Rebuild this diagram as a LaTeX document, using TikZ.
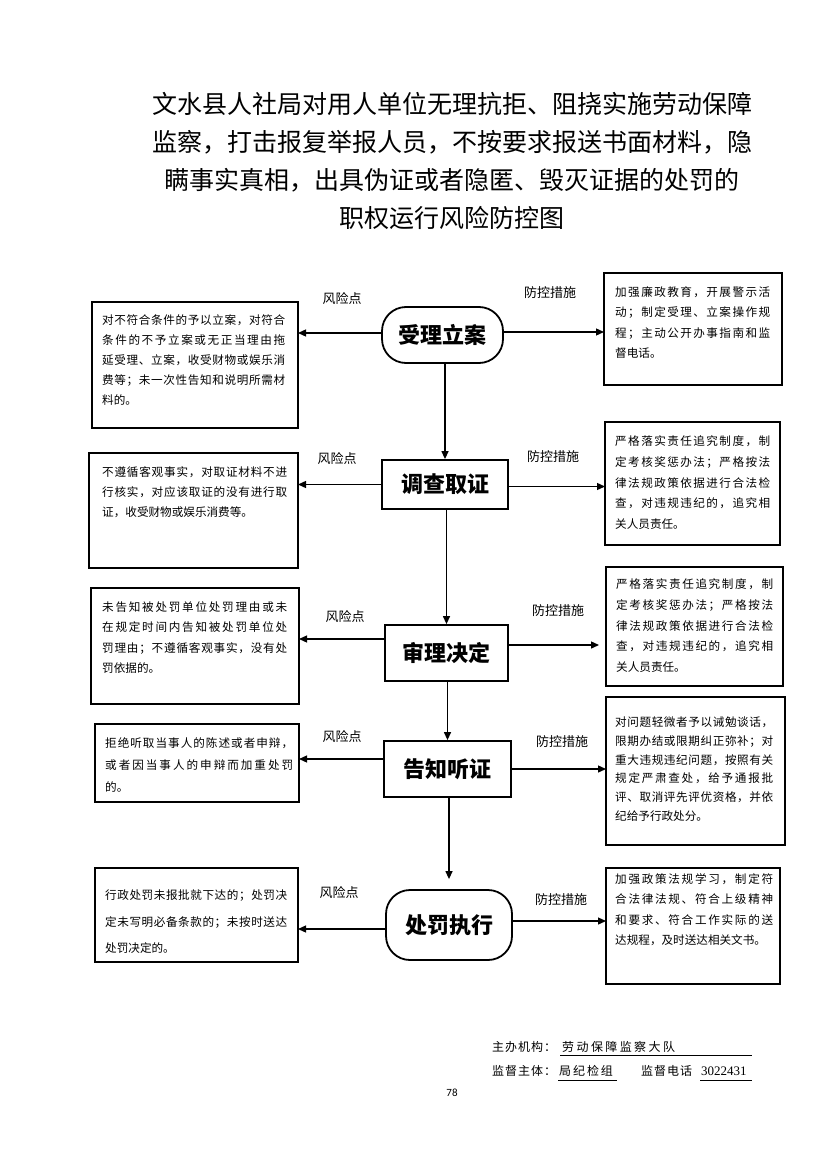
\documentclass[tikz,border=0pt]{standalone}
\usepackage{fontspec}
\setmainfont{Noto Sans CJK SC}
\newfontfamily\cjk{Noto Sans CJK SC}
\newfontfamily\numfont{Liberation Serif}
\newfontfamily\pgnum{Carlito}
\usetikzlibrary{arrows.meta}
\makeatletter
\count@="4E00
\loop\ifnum\count@<"A000 \XeTeXcharclass\count@=5 \advance\count@ by 1 \repeat
\makeatother
\XeTeXcharclass"FF0C=6 \XeTeXcharclass"FF1B=6 \XeTeXcharclass"3001=6
\XeTeXcharclass"3002=6 \XeTeXcharclass"FF1A=6
\XeTeXinterchartokenstate=1
\XeTeXinterchartoks 5 5 = {\hskip 0pt plus 3pt\relax}
\XeTeXinterchartoks 5 6 = {\nobreak\hskip 0pt plus 3pt\relax}
\XeTeXinterchartoks 6 5 = {\hskip 0pt plus 3pt\relax}
\begin{document}
\begin{tikzpicture}[x=1pt,y=-1pt,
  riskbox/.style={draw, line width=2pt, anchor=north west, inner sep=0pt, outer sep=0pt},
  boxtext/.style n args={2}{anchor=north west, inner sep=0pt, align=justify, text width=#1,
      font={\cjk\fontsize{11.6}{#2}\selectfont}},
  flow/.style={draw, line width=1.8pt, inner sep=0pt, font={\cjk\bfseries\fontsize{22}{22}\selectfont}},
  stad/.style={flow, rounded corners=24pt},
  tag/.style={inner sep=0pt, font={\cjk\fontsize{13}{13}\selectfont}},
  arr/.style={line width=1.3pt, -{Triangle[length=8pt,width=7pt]}},
  foot/.style={inner sep=0pt, anchor=west, font={\XeTeXinterchartokenstate=0 \cjk\addfontfeature{LetterSpace=8}\fontsize{12}{12}\selectfont}},
  footwide/.style={inner sep=0pt, anchor=west, font={\XeTeXinterchartokenstate=0 \cjk\addfontfeature{LetterSpace=#1}\fontsize{12}{12}\selectfont}},
  uline/.style={line width=0.8pt},
]
\fill[white] (0,0) rectangle (827,1169);
\useasboundingbox (0,0) rectangle (827,1169);

% title
\node[font={\cjk\fontsize{25}{38}\selectfont}, align=center, inner sep=0pt] (title) at (452,161)
 {文水县人社局对用人单位无理抗拒、阻挠实施劳动保障\\
  监察，打击报复举报人员，不按要求报送书面材料，隐\\
  瞒事实真相，出具伪证或者隐匿、毁灭证据的处罚的\\
  职权运行风险防控图};

% flow nodes
\node[stad, minimum width=121pt, minimum height=56pt] (S1) at (442.5,335) {受理立案};
\node[flow, minimum width=126pt, minimum height=49pt] (N2) at (445,484.5) {调查取证};
\node[flow, minimum width=123pt, minimum height=56pt] (N3) at (446.5,653) {审理决定};
\node[flow, minimum width=127pt, minimum height=56pt] (N4) at (447.5,769) {告知听证};
\node[stad, minimum width=126pt, minimum height=70pt] (S5) at (449,925) {处罚执行};

% left boxes
\node[riskbox, minimum width=206pt, minimum height=126pt] (L1) at (92,302) {};
\node[boxtext={183pt}{20pt}] (L1t) at (102,314.5)
 {对不符合条件的予以立案，对符合\linebreak 条件的不予立案或无正当理由拖\linebreak 延受理、立案，收受财物或娱乐消\linebreak 费等；未一次性告知和说明所需材\linebreak 料的。};
\node[riskbox, minimum width=209pt, minimum height=115pt] (L2) at (89,453) {};
\node[boxtext={185pt}{20pt}] (L2t) at (102,466.5)
 {不遵循客观事实，对取证材料不进\linebreak 行核实，对应该取证的没有进行取\linebreak 证，收受财物或娱乐消费等。};
\node[riskbox, minimum width=208pt, minimum height=116pt] (L3) at (91,588) {};
\node[boxtext={185pt}{20.3pt}] (L3t) at (102,601.5)
 {未告知被处罚单位处罚理由或未\linebreak 在规定时间内告知被处罚单位处\linebreak 罚理由；不遵循客观事实，没有处\linebreak 罚依据的。};
\node[riskbox, minimum width=204pt, minimum height=78pt] (L4) at (95,724) {};
\node[boxtext={188pt}{22pt}] (L4t) at (105,737.5)
 {拒绝听取当事人的陈述或者申辩，\linebreak 或者因当事人的申辩而加重处罚\linebreak 的。};
\node[riskbox, minimum width=203pt, minimum height=94pt] (L5) at (95,868) {};
\node[boxtext={182pt}{26.5pt}] (L5t) at (105,889.5)
 {行政处罚未报批就下达的；处罚决\linebreak 定未写明必备条款的；未按时送达\linebreak 处罚决定的。};

% right boxes
\node[riskbox, minimum width=178pt, minimum height=112pt] (R1) at (604,273) {};
\node[boxtext={155pt}{20.3pt}] (R1t) at (615,286.5)
 {加强廉政教育，开展警示活\linebreak 动；制定受理、立案操作规\linebreak 程；主动公开办事指南和监\linebreak 督电话。};
\node[riskbox, minimum width=175pt, minimum height=123pt] (R2) at (605,422) {};
\node[boxtext={155pt}{20.75pt}] (R2t) at (615,435.5)
 {严格落实责任追究制度，制\linebreak 定考核奖惩办法；严格按法\linebreak 律法规政策依据进行合法检\linebreak 查，对违规违纪的，追究相\linebreak 关人员责任。};
\node[riskbox, minimum width=177pt, minimum height=119pt] (R3) at (606,567) {};
\node[boxtext={157pt}{20.75pt}] (R3t) at (616,578.5)
 {严格落实责任追究制度，制\linebreak 定考核奖惩办法；严格按法\linebreak 律法规政策依据进行合法检\linebreak 查，对违规违纪的，追究相\linebreak 关人员责任。};
\node[riskbox, minimum width=179pt, minimum height=148pt] (R4) at (606,697) {};
\node[boxtext={158pt}{18.8pt}] (R4t) at (615,716.5)
 {对问题轻微者予以诫勉谈话，\linebreak 限期办结或限期纠正弥补；对\linebreak 重大违规违纪问题，按照有关\linebreak 规定严肃查处，给予通报批\linebreak 评、取消评先评优资格，并依\linebreak 纪给予行政处分。};
\node[riskbox, minimum width=174pt, minimum height=116pt] (R5) at (606,868) {};
\node[boxtext={158pt}{20.3pt}] (R5t) at (615,873.5)
 {加强政策法规学习，制定符\linebreak 合法律法规、符合上级精神\linebreak 和要求、符合工作实际的送\linebreak 达规程，及时送达相关文书。};

% labels
\node[tag] (k1) at (342,299) {风险点};
\node[tag] (k2) at (337,459) {风险点};
\node[tag] (k3) at (345,617) {风险点};
\node[tag] (k4) at (342,737) {风险点};
\node[tag] (k5) at (339,893) {风险点};
\node[tag] (m1) at (550,293) {防控措施};
\node[tag] (m2) at (553,457) {防控措施};
\node[tag] (m3) at (558,611) {防控措施};
\node[tag] (m4) at (562,742) {防控措施};
\node[tag] (m5) at (561,900) {防控措施};

% connectors
\draw[arr] ([yshift=2pt]S1.west) -- ([yshift=2pt]S1.west -| L1.east);
\draw[arr] ([yshift=3pt]S1.east) -- ([yshift=3pt]S1.east -| R1.west);
\draw[arr] (N2.north |- S1.south) -- (N2.north);
\draw[arr] (N2.west) -- (N2.west -| L2.east);
\draw[arr] ([yshift=-2pt]N2.east) -- ([yshift=-2pt]N2.east -| R2.west);
\draw[arr] (N3.north |- N2.south) -- (N3.north);
\draw[arr] ([yshift=14pt]N3.west) -- ([yshift=14pt]N3.west -| L3.east);
\draw[arr, shorten >=7pt] ([yshift=8pt]N3.east) -- ([yshift=8pt]N3.east -| R3.west);
\draw[arr] (N4.north |- N3.south) -- (N4.north);
\draw[arr] ([yshift=10pt]N4.west) -- ([yshift=10pt]N4.west -| L4.east);
\draw[arr] (N4.east) -- (N4.east -| R4.west);
\draw[arr, shorten >=10pt] (S5.north |- N4.south) -- (S5.north);
\draw[arr] ([yshift=-4pt]S5.west) -- ([yshift=-4pt]S5.west -| L5.east);
\draw[arr] ([yshift=4pt]S5.east) -- ([yshift=4pt]S5.east -| R5.west);

% footer
\node[foot] (F1) at (492,1047) {主办机构：};
\node[footwide=20] (F2) at (562,1047) {劳动保障监察大队};
\coordinate (U1a) at (560,1055);
\coordinate (U1b) at (752,1055);
\draw[uline] (U1a) -- (U1b);
\node[foot] (F3) at (492,1071) {监督主体：};
\node[footwide=16] (F4) at (559,1071) {局纪检组};
\coordinate (U2a) at (558,1080);
\coordinate (U2b) at (617,1080);
\draw[uline] (U2a) -- (U2b);
\node[foot] (F5) at (641,1071) {监督电话};
\node[inner sep=0pt, anchor=west, font={\numfont\fontsize{13}{13}\selectfont}] (F6) at (701,1071) {3022431};
\coordinate (U3a) at (700,1080);
\coordinate (U3b) at (752,1080);
\draw[uline] (U3a) -- (U3b);

\node[inner sep=0pt, font={\pgnum\fontsize{11}{11}\selectfont}] (pg) at (452,1093) {78};
\end{tikzpicture}
\end{document}
